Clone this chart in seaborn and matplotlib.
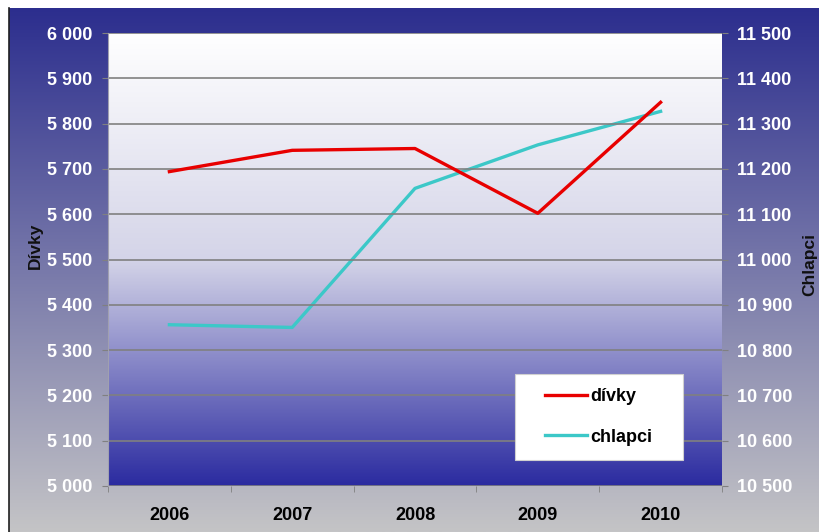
import numpy as np
import pandas as pd
import matplotlib.pyplot as plt
import matplotlib.ticker as mticker
from matplotlib.colors import LinearSegmentedColormap
from matplotlib.patches import Rectangle
import seaborn as sns

years = [2006, 2007, 2008, 2009, 2010]
divky = [5694, 5741, 5745, 5602, 5847]
chlapci = [10856, 10850, 11157, 11253, 11327]

df = pd.DataFrame({"rok": years, "divky": divky, "chlapci": chlapci})

plt.rcParams["font.family"] = ["Liberation Sans", "DejaVu Sans"]
plt.rcParams["font.weight"] = "bold"

W, H = 819, 532
fig = plt.figure(figsize=(W / 100, H / 100), dpi=100, facecolor="white")

# outer background gradient (navy -> grey)
bg = fig.add_axes([9 / W, 0, (W - 9) / W, (H - 8) / H], zorder=-5)
outer = LinearSegmentedColormap.from_list("outer", ["#2c2e8e", "#c4c4c6"])
bg.imshow(np.linspace(0, 1, 256).reshape(-1, 1), cmap=outer, aspect="auto",
          extent=[0, 1, 0, 1])
bg.set_xlim(0, 1)
bg.set_ylim(0, 1)
bg.set_xticks([])
bg.set_yticks([])
for s in ["top", "right", "bottom"]:
    bg.spines[s].set_visible(False)
bg.spines["left"].set_color("#202020")
bg.spines["left"].set_linewidth(1.2)

# plot area gradient (white -> blue)
left, right, top, bottom = 108, 722, 33, 486
pos = [left / W, (H - bottom) / H, (right - left) / W, (bottom - top) / H]
pa = fig.add_axes(pos, zorder=-4)
inner = LinearSegmentedColormap.from_list("inner", ["#ffffff", "#d4d4e8", "#2b2ba0"])
pa.imshow(np.linspace(0, 1, 256).reshape(-1, 1), cmap=inner, aspect="auto",
          extent=[0, 1, 0, 1])
pa.set_xlim(0, 1)
pa.set_ylim(0, 1)
pa.axis("off")

ax = fig.add_axes(pos)
ax2 = ax.twinx()
ax.set_zorder(ax2.get_zorder() + 1)
ax.patch.set_visible(False)
ax2.patch.set_visible(False)

sns.lineplot(data=df, x="rok", y="chlapci", ax=ax2, color="#3cc8c8",
             linewidth=2.4, label="chlapci", legend=False)
sns.lineplot(data=df, x="rok", y="divky", ax=ax, color="#e80000",
             linewidth=2.4, label="dívky", legend=False)

ax.set_xlim(2005.5, 2010.5)
ax.set_ylim(5000, 6000)
ax2.set_ylim(10500, 11500)
ax.set_yticks(np.arange(5000, 6001, 100))
ax2.set_yticks(np.arange(10500, 11501, 100))
fmt = mticker.FuncFormatter(lambda v, p: f"{v:,.0f}".replace(",", " "))
ax.yaxis.set_major_formatter(fmt)
ax2.yaxis.set_major_formatter(fmt)

ax.set_xticks(years)
ax.set_xticklabels([str(y) for y in years])
ax.set_xticks(np.arange(2005.5, 2011, 1), minor=True)
ax.tick_params(axis="x", which="major", length=0, pad=15, labelsize=13,
               labelcolor="black")
ax.tick_params(axis="x", which="minor", length=4, color="#808080", direction="out")
ax.tick_params(axis="y", length=4, color="#808080", pad=7, labelsize=13,
               labelcolor="white")
ax2.tick_params(axis="y", length=4, color="#808080", pad=7, labelsize=13,
                labelcolor="white")
for lab in ax.get_xticklabels() + ax.get_yticklabels() + ax2.get_yticklabels():
    lab.set_fontweight("bold")

ax.yaxis.grid(True, color="#808080", linewidth=1.2)
ax.set_axisbelow(True)
for a in (ax, ax2):
    for s in a.spines.values():
        s.set_visible(False)
ax.spines["left"].set_visible(True)
ax.spines["left"].set_color("#a0a0b0")

ax.set_xlabel("")
ax.set_ylabel("Dívky", fontsize=12.5, fontweight="bold", color="#101010")
ax2.set_ylabel("Chlapci", fontsize=12.5, fontweight="bold", color="#101010")
ax.yaxis.set_label_coords(-0.106, 0.53)
ax2.yaxis.set_label_coords(1.13, 0.49)

# legend box
ax.add_patch(Rectangle((515 / W, 1 - 460 / H), 168 / W, 86 / H,
                       transform=fig.transFigure, facecolor="white",
                       edgecolor="#d0d0d0", linewidth=0.8, zorder=4))
h1, l1 = ax.get_legend_handles_labels()
h2, l2 = ax2.get_legend_handles_labels()
leg = ax.legend(h1 + h2, l1 + l2, loc="center", frameon=False,
                bbox_to_anchor=(599 / W, 1 - 417 / H),
                bbox_transform=fig.transFigure, fontsize=13,
                handlelength=2.3, handletextpad=0.2, labelspacing=1.3)
leg.set_zorder(5)
for t in leg.get_texts():
    t.set_fontweight("bold")

fig.savefig("out.png", dpi=100, facecolor="white")
